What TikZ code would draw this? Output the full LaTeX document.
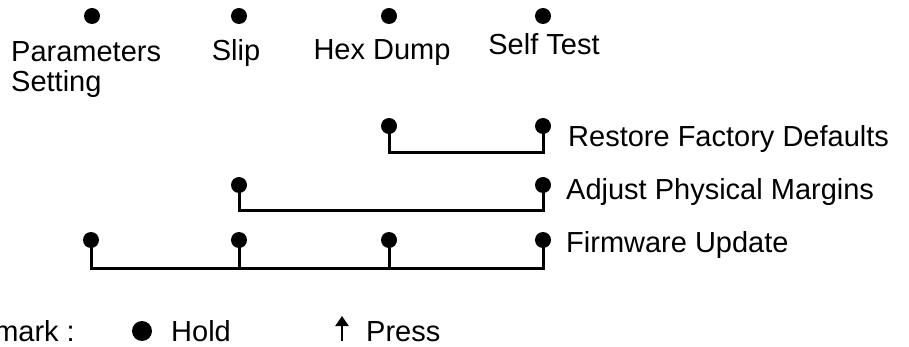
\documentclass[tikz,border=0pt]{standalone}
\usepackage{fontspec}
\setmainfont{Liberation Sans}
\usetikzlibrary{arrows.meta}
\begin{document}
\begin{tikzpicture}[x=1pt,y=-1pt,
  holddot/.style={circle,fill=black,inner sep=0pt,minimum size=16pt},
  wire/.style={line width=3pt,line cap=rect,line join=miter},
  lbl/.style={inner sep=0pt,font=\fontsize{29}{30}\selectfont}]
\useasboundingbox (0,0) rectangle (909,347);
\clip (0,0) rectangle (909,347);
% top key dots and labels
\node[holddot] (kp) at (92,16) {};
\node[holddot] (ks) at (239,16) {};
\node[holddot] (kh) at (389,16) {};
\node[holddot] (kt) at (543,16) {};
\node[lbl,anchor=north west,align=left] (lp) at (11,41.2) {Parameters\\Setting};
\node[lbl,anchor=base] (ls) at (236,61) {Slip};
\node[lbl,anchor=base] (lh) at (382,60) {Hex Dump};
\node[lbl,anchor=base] (lt) at (544,55) {Self Test};
% row 1: restore factory defaults
\node[holddot] (r1) at (389,126) {};
\node[holddot] (r2) at (543,126) {};
\coordinate (rb) at (543,153);
\draw[wire] (r1.center) |- (rb) -- (r2.center);
\node[lbl,anchor=base west] (rt) at (568,147) {Restore Factory Defaults};
% row 2: adjust physical margins
\node[holddot] (a1) at (239,185) {};
\node[holddot] (a2) at (543,185) {};
\coordinate (ab) at (543,211);
\draw[wire] (a1.center) |- (ab) -- (a2.center);
\node[lbl,anchor=base west] (at) at (566,200) {Adjust Physical Margins};
% row 3: firmware update
\node[holddot] (f1) at (91,240) {};
\node[holddot] (f2) at (239,240) {};
\node[holddot] (f3) at (389,240) {};
\node[holddot] (f4) at (543,240) {};
\coordinate (fb) at (543,268);
\draw[wire] (f1.center) |- (fb) -- (f4.center);
\draw[wire] (f2.center) -- (f2.center |- fb);
\draw[wire] (f3.center) -- (f3.center |- fb);
\node[lbl,anchor=base west] (ft) at (566,252) {Firmware Update};
% remark line
\node[lbl,anchor=base west] (rm) at (-43,341) {Remark :};
\node[circle,fill=black,inner sep=0pt,minimum size=20pt] (hd) at (142,331) {};
\node[lbl,anchor=base west] (hl) at (171,341) {Hold};
\coordinate (pa) at (342,341);
\coordinate (pb) at (342,316);
\draw[line width=2.2pt,-{Triangle[width=13pt,length=10pt]}] (pa) -- (pb);
\node[lbl,anchor=base west] (pl) at (366,341) {Press};
\end{tikzpicture}
\end{document}
